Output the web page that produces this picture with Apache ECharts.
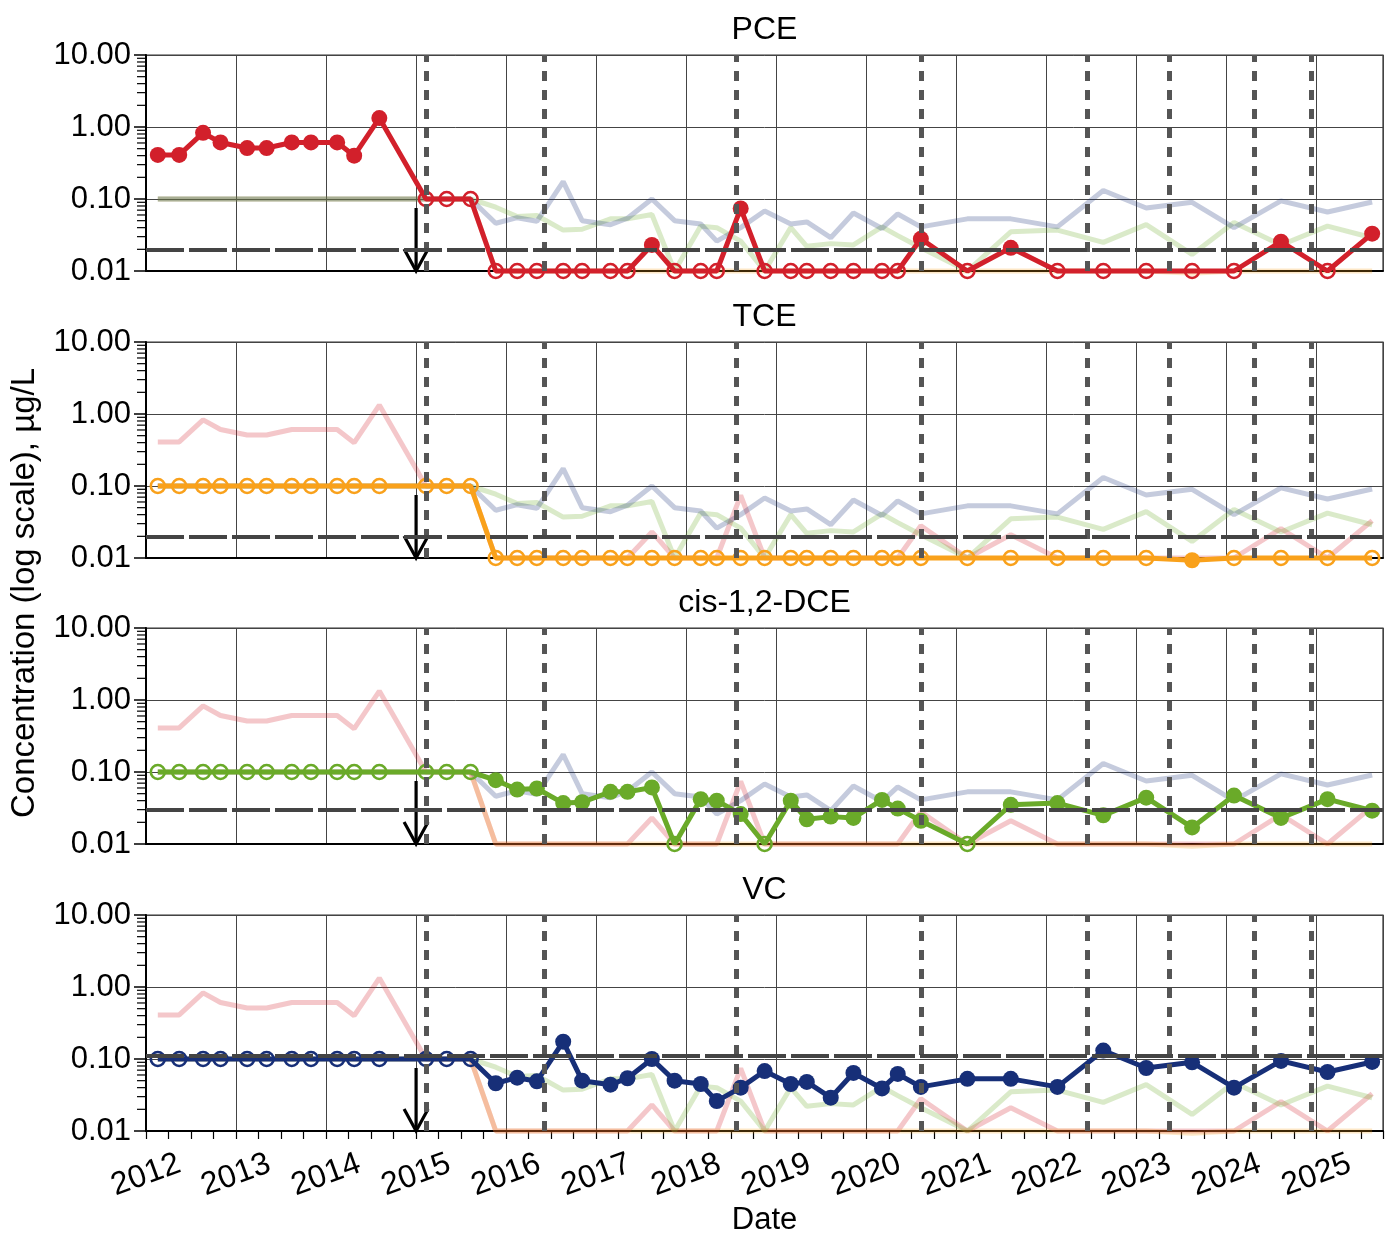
<!DOCTYPE html>
<html>
<head>
<meta charset="utf-8">
<script src="https://cdn.jsdelivr.net/npm/echarts@6/dist/echarts.min.js"></script>
<style>
  html, body { margin: 0; padding: 0; background: #fff; }
  #chart { width: 1391px; height: 1237px; }
</style>
</head>
<body>
<div id="chart"></div>
<script>
// sampling dates
const dates = ['2012-02-18', '2012-05-15', '2012-08-20', '2012-10-30', '2013-02-15', '2013-05-05',
    '2013-08-15', '2013-11-01', '2014-02-15', '2014-04-25', '2014-08-05', '2015-02-10',
    '2015-05-05', '2015-08-10', '2015-11-20', '2016-02-15', '2016-05-05', '2016-08-20',
    '2016-11-05', '2017-02-28', '2017-05-08', '2017-08-15', '2017-11-15', '2018-03-01',
    '2018-05-05', '2018-08-10', '2018-11-15', '2019-03-01', '2019-05-05', '2019-08-10',
    '2019-11-10', '2020-03-05', '2020-05-08', '2020-08-10', '2021-02-15', '2021-08-10',
    '2022-02-15', '2022-08-20', '2023-02-10', '2023-08-15', '2024-02-01', '2024-08-10',
    '2025-02-15', '2025-08-15'];

// concentrations, ug/L (ND = non-detect, open circle)
const pce = [0.41, 0.41, 0.83, 0.61, 0.51, 0.51, 0.61, 0.61, 0.61, 0.40, 1.33, 0.1, 0.1, 0.1,
    0.01, 0.01, 0.01, 0.01, 0.01, 0.01, 0.01, 0.023, 0.01, 0.01, 0.01, 0.074, 0.01, 0.01, 0.01,
    0.01, 0.01, 0.01, 0.01, 0.028, 0.01, 0.021, 0.01, 0.01, 0.01, 0.01, 0.01, 0.0255, 0.01, 0.033];
const pceND = [0, 0, 0, 0, 0, 0, 0, 0, 0, 0, 0, 1, 1, 1, 1, 1, 1, 1, 1, 1, 1, 0, 1, 1, 1, 0,
    1, 1, 1, 1, 1, 1, 1, 0, 1, 0, 1, 1, 1, 1, 1, 0, 1, 0];

const tce = [0.1, 0.1, 0.1, 0.1, 0.1, 0.1, 0.1, 0.1, 0.1, 0.1, 0.1, 0.1, 0.1, 0.1,
    0.01, 0.01, 0.01, 0.01, 0.01, 0.01, 0.01, 0.01, 0.01, 0.01, 0.01, 0.01, 0.01, 0.01, 0.01,
    0.01, 0.01, 0.01, 0.01, 0.01, 0.01, 0.01, 0.01, 0.01, 0.01, 0.0093, 0.01, 0.01, 0.01, 0.01];
const tceND = [1, 1, 1, 1, 1, 1, 1, 1, 1, 1, 1, 1, 1, 1, 1, 1, 1, 1, 1, 1, 1, 1, 1, 1, 1, 1,
    1, 1, 1, 1, 1, 1, 1, 1, 1, 1, 1, 1, 1, 0, 1, 1, 1, 1];

const dce = [0.1, 0.1, 0.1, 0.1, 0.1, 0.1, 0.1, 0.1, 0.1, 0.1, 0.1, 0.1, 0.1, 0.1,
    0.077, 0.057, 0.059, 0.037, 0.038, 0.053, 0.053, 0.061, 0.01, 0.042, 0.040, 0.026, 0.01,
    0.040, 0.022, 0.024, 0.023, 0.041, 0.031, 0.021, 0.01, 0.035, 0.037, 0.025, 0.044, 0.017,
    0.047, 0.023, 0.042, 0.029];
const dceND = [1, 1, 1, 1, 1, 1, 1, 1, 1, 1, 1, 1, 1, 1, 0, 0, 0, 0, 0, 0, 0, 0, 1, 0, 0, 0,
    1, 0, 0, 0, 0, 0, 0, 0, 1, 0, 0, 0, 0, 0, 0, 0, 0, 0];

const vc = [0.1, 0.1, 0.1, 0.1, 0.1, 0.1, 0.1, 0.1, 0.1, 0.1, 0.1, 0.1, 0.1, 0.1,
    0.046, 0.055, 0.049, 0.174, 0.050, 0.044, 0.054, 0.10, 0.050, 0.045, 0.026, 0.040, 0.068,
    0.045, 0.048, 0.029, 0.064, 0.039, 0.062, 0.041, 0.053, 0.053, 0.041, 0.131, 0.075, 0.090,
    0.040, 0.094, 0.066, 0.091];
const vcND = [1, 1, 1, 1, 1, 1, 1, 1, 1, 1, 1, 1, 1, 1, 0, 0, 0, 0, 0, 0, 0, 0, 0, 0, 0, 0,
    0, 0, 0, 0, 0, 0, 0, 0, 0, 0, 0, 0, 0, 0, 0, 0, 0, 0];

const names = ['PCE', 'TCE', 'cis-1,2-DCE', 'VC'];
const thresholds = [0.02, 0.02, 0.03, 0.11];
const eventDates = ['2015-02-10', '2016-06-03', '2018-07-25', '2020-08-13',
    '2022-06-15', '2023-05-15', '2024-04-25', '2024-12-10'];
const arrowDate = '2015-01-01';
const arrowRange = [0.075, 0.01];
const xStart = '2012-01-01';
const xEnd = '2025-09-28';
const yTicks = [0.01, 0.1, 1, 10];
const yMinor = [0.02, 0.03, 0.04, 0.05, 0.06, 0.07, 0.08, 0.09,
    0.2, 0.3, 0.4, 0.5, 0.6, 0.7, 0.8, 0.9,
    2, 3, 4, 5, 6, 7, 8, 9];

const colors = ['#d2202b', '#f9a11b', '#6aaa29', '#172f78'];
const allVals = [pce, tce, dce, vc];
const allND = [pceND, tceND, dceND, vcND];

// date string -> decimal year
function toYear(s) {
    let d = Date.parse(s + 'T00:00:00Z');
    let y = new Date(d).getUTCFullYear();
    let a = Date.UTC(y, 0, 1), b = Date.UTC(y + 1, 0, 1);
    return y + (d - a) / (b - a);
}

let chart = echarts.init(document.getElementById('chart'));
const FONT = 'Liberation Sans, Arial, sans-serif';
const tops = [55, 342, 628, 915];
const H = 216;
const xMin = toYear(xStart), xMax = toYear(xEnd);

let grids = [], xAxes = [], yAxes = [], titles = [], series = [];

tops.forEach(function (top, g) {
    let last = g === tops.length - 1;
    grids.push({
        left: 146, right: 8, top: top, height: H,
        containLabel: false, outerBoundsMode: 'none',
        show: true, borderColor: '#333', borderWidth: 1.2
    });
    titles.push({
        text: names[g], left: 764.5, top: top - 41, textAlign: 'center', padding: 0,
        textStyle: { fontFamily: FONT, fontSize: 32, fontWeight: 'normal', color: '#000' }
    });
    xAxes.push({
        type: 'value', gridIndex: g, min: xMin, max: xMax, interval: 1,
        axisLine: { show: true, onZero: false, lineStyle: { color: '#000', width: 2 } },
        axisTick: { show: last, length: 8, lineStyle: { color: '#000', width: 1.2 } },
        minorTick: { show: last, splitNumber: 4, length: 8, lineStyle: { color: '#000', width: 1.2 } },
        splitLine: { show: true, lineStyle: { color: '#444', width: 1 } },
        axisLabel: {
            show: last, rotate: 20, align: 'center', verticalAlign: 'middle', margin: 44,
            showMaxLabel: false,
            fontFamily: FONT, fontSize: 32, color: '#000',
            formatter: function (v) { return Number.isInteger(v) ? String(v) : ''; }
        },
        name: last ? 'Date' : '', nameLocation: 'middle', nameGap: 74,
        nameTextStyle: { fontFamily: FONT, fontSize: 31, color: '#000' }
    });
    yAxes.push({
        type: 'log', logBase: 10, gridIndex: g, min: yTicks[0], max: yTicks[yTicks.length - 1],
        axisLine: { show: true, lineStyle: { color: '#000', width: 2 } },
        axisTick: { show: true, length: 12, lineStyle: { color: '#000', width: 1.5 } },
        splitLine: { show: true, lineStyle: { color: '#444', width: 1 } },
        axisLabel: {
            fontFamily: FONT, fontSize: 31, color: '#000', margin: 15,
            formatter: function (v) { return Number(v).toFixed(2); }
        }
    });

    // faded other analytes
    allVals.forEach(function (vals, k) {
        if (k === g) return;
        series.push({
            type: 'line', xAxisIndex: g, yAxisIndex: g, z: 1, clip: false, silent: true,
            showSymbol: false, symbol: 'none',
            lineStyle: { color: colors[k], width: 5, opacity: 0.25 },
            data: dates.map(function (d, i) { return [toYear(d), vals[i]]; })
        });
    });

    // event lines and threshold
    let marks = eventDates.map(function (d) {
        return { xAxis: toYear(d), lineStyle: { color: '#555', width: 5, type: [10, 9] } };
    });
    marks.push({ yAxis: thresholds[g], lineStyle: { color: '#444', width: 4, type: [38, 5] } });
    series.push({
        type: 'line', xAxisIndex: g, yAxisIndex: g, z: 2, data: [],
        markLine: { silent: true, symbol: ['none', 'none'], label: { show: false }, data: marks }
    });

    // arrow
    series.push({
        type: 'custom', xAxisIndex: g, yAxisIndex: g, z: 3, silent: true,
        encode: { x: 0, y: [1, 2] },
        data: [[toYear(arrowDate), arrowRange[0], arrowRange[1]]],
        renderItem: function (params, api) {
            let p1 = api.coord([api.value(0), api.value(1)]);
            let p2 = api.coord([api.value(0), api.value(2)]);
            let st = { stroke: '#000', lineWidth: 3.2, fill: null };
            return {
                type: 'group', children: [
                    { type: 'line', shape: { x1: p1[0], y1: p1[1], x2: p2[0], y2: p2[1] }, style: st },
                    { type: 'polyline', shape: { points: [[p2[0] - 12, p2[1] - 22], [p2[0], p2[1]], [p2[0] + 12, p2[1] - 22]] }, style: st }
                ]
            };
        }
    });

    // minor log ticks
    series.push({
        type: 'custom', xAxisIndex: g, yAxisIndex: g, z: 5, silent: true,
        encode: { x: 0, y: 1 },
        data: yMinor.map(function (v) { return [xMin, v]; }),
        renderItem: function (params, api) {
            let p = api.coord([api.value(0), api.value(1)]);
            return {
                type: 'line', shape: { x1: p[0] - 9, y1: p[1], x2: p[0], y2: p[1] },
                style: { stroke: '#000', lineWidth: 1.2 }
            };
        }
    });

    // highlighted analyte
    let col = colors[g];
    series.push({
        type: 'line', xAxisIndex: g, yAxisIndex: g, z: 4, clip: false,
        symbol: 'circle',
        lineStyle: { color: col, width: 5 },
        data: dates.map(function (d, i) {
            let nd = allND[g][i] === 1;
            return {
                value: [toYear(d), allVals[g][i]],
                symbolSize: nd ? 14 : 16,
                itemStyle: {
                    color: nd ? 'rgba(255,255,255,0)' : col,
                    borderColor: col, borderWidth: nd ? 2.6 : 0
                }
            };
        })
    });
});

let option = {
    animation: false,
    backgroundColor: '#fff',
    textStyle: { fontFamily: FONT },
    title: titles,
    grid: grids,
    xAxis: xAxes,
    yAxis: yAxes,
    graphic: [{
        type: 'text', x: 25, y: 593, rotation: Math.PI / 2,
        style: {
            text: 'Concentration (log scale), µg/L', font: '33px ' + FONT,
            fill: '#000', align: 'center', verticalAlign: 'middle'
        }
    }],
    series: series
};
chart.setOption(option);
</script>
</body>
</html>
